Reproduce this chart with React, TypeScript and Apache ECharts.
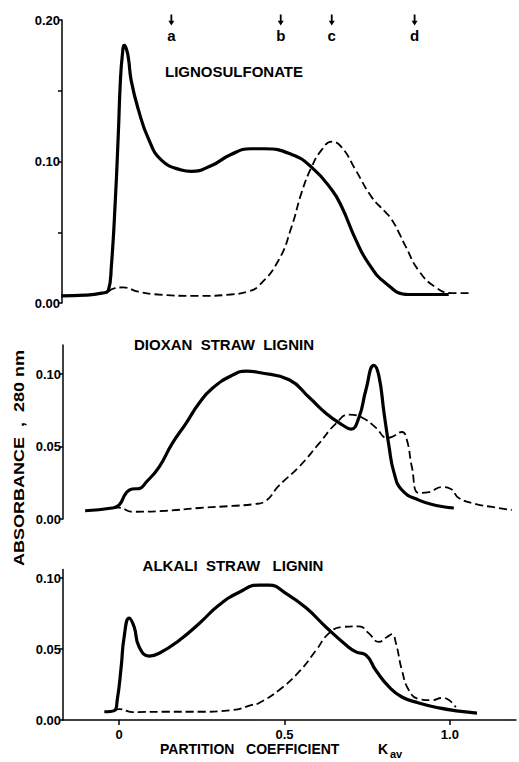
import React, { useEffect, useRef } from "react";
import * as echarts from "echarts";

// ---------- data (Kav, absorbance at 280 nm) ----------
const xMin = -0.17;
const xMax = 1.2;

const ligSolid = [
  [-0.172, 0.005], [-0.1, 0.0055], [-0.05, 0.007], [-0.03, 0.009], [-0.021, 0.026],
  [-0.009, 0.073], [0, 0.12], [0.006, 0.156], [0.012, 0.175], [0.018, 0.182],
  [0.025, 0.179], [0.031, 0.172], [0.039, 0.157], [0.06, 0.137], [0.091, 0.116],
  [0.13, 0.101], [0.19, 0.094], [0.22, 0.093], [0.28, 0.097], [0.34, 0.105],
  [0.40, 0.109], [0.44, 0.109], [0.523, 0.105], [0.583, 0.096], [0.644, 0.080],
  [0.674, 0.068], [0.716, 0.045], [0.755, 0.028], [0.807, 0.014], [0.876, 0.006],
  [0.997, 0.006],
];
const ligDash = [
  [-0.03, 0.008], [-0.01, 0.0105], [0.015, 0.011], [0.06, 0.008], [0.12, 0.006],
  [0.24, 0.005], [0.34, 0.006], [0.39, 0.008], [0.423, 0.012], [0.483, 0.030],
  [0.523, 0.054], [0.553, 0.078], [0.583, 0.096], [0.613, 0.108], [0.644, 0.114],
  [0.674, 0.110], [0.716, 0.094], [0.764, 0.075], [0.807, 0.064], [0.825, 0.059],
  [0.846, 0.050], [0.867, 0.040], [0.906, 0.023], [0.958, 0.011], [1.006, 0.007],
  [1.063, 0.007],
];
const dioxSolid = [
  [-0.103, 0.0057], [-0.021, 0.0076], [0, 0.0097], [0.021, 0.018], [0.039, 0.0207],
  [0.06, 0.021], [0.082, 0.0255], [0.121, 0.036], [0.16, 0.052], [0.202, 0.066],
  [0.242, 0.080], [0.281, 0.090], [0.341, 0.099], [0.384, 0.102], [0.423, 0.101],
  [0.514, 0.096], [0.574, 0.084], [0.625, 0.073], [0.674, 0.065], [0.701, 0.062],
  [0.725, 0.070], [0.746, 0.089], [0.770, 0.106], [0.785, 0.099], [0.801, 0.073],
  [0.816, 0.050], [0.831, 0.032], [0.855, 0.020], [0.906, 0.013], [0.967, 0.009],
  [1.012, 0.0076],
];
const dioxDash = [
  [-0.02, 0.0077], [0, 0.0078], [0.039, 0.005], [0.142, 0.0057], [0.242, 0.0076],
  [0.341, 0.009], [0.41, 0.0103], [0.44, 0.012], [0.483, 0.023], [0.544, 0.036],
  [0.604, 0.052], [0.656, 0.066], [0.695, 0.072], [0.734, 0.070], [0.776, 0.063],
  [0.810, 0.056], [0.825, 0.0566], [0.855, 0.060], [0.870, 0.0545], [0.885, 0.036],
  [0.906, 0.018], [0.937, 0.0186], [0.976, 0.022], [1.003, 0.0207], [1.027, 0.0145],
  [1.079, 0.0103], [1.127, 0.0083], [1.187, 0.0062],
];
const alkSolid = [
  [-0.045, 0.0058], [-0.015, 0.0066], [-0.006, 0.014], [0.006, 0.0375], [0.015, 0.0587],
  [0.030, 0.0718], [0.045, 0.0657], [0.06, 0.0516], [0.091, 0.045], [0.121, 0.047],
  [0.181, 0.056], [0.242, 0.068], [0.302, 0.081], [0.363, 0.090], [0.423, 0.095],
  [0.453, 0.095], [0.505, 0.089], [0.565, 0.079], [0.625, 0.0655], [0.686, 0.0528],
  [0.716, 0.048], [0.746, 0.0458], [0.776, 0.035], [0.816, 0.0233], [0.855, 0.0162],
  [0.906, 0.012], [0.967, 0.0085], [1.027, 0.0063], [1.082, 0.0049],
];
const alkDash = [
  [-0.015, 0.007], [0, 0.0077], [0.039, 0.0056], [0.142, 0.0058], [0.242, 0.0058],
  [0.341, 0.007], [0.402, 0.0106], [0.423, 0.012], [0.483, 0.021], [0.544, 0.034],
  [0.595, 0.049], [0.634, 0.061], [0.674, 0.0655], [0.725, 0.066], [0.755, 0.061],
  [0.785, 0.055], [0.810, 0.0585], [0.825, 0.0605], [0.837, 0.054], [0.855, 0.035],
  [0.876, 0.021], [0.906, 0.0148], [0.946, 0.014], [0.976, 0.0155], [0.997, 0.014],
  [1.018, 0.009],
];

const markerX = [0.16, 0.49, 0.644, 0.894];
const markerLabels = ["a", "b", "c", "d"];

const panelTitles = ["LIGNOSULFONATE", "DIOXAN  STRAW  LIGNIN", "ALKALI  STRAW   LIGNIN"];
const panelMax = [0.2, 0.12, 0.106];
const panelTickValues = [
  [0, 0.05, 0.1, 0.15, 0.2],
  [0, 0.05, 0.1],
  [0, 0.05, 0.1],
];
const panelLabelValues = [
  [0, 0.1, 0.2],
  [0, 0.05, 0.1],
  [0, 0.05, 0.1],
];
const xTickValues = [0, 0.5, 1.0];

const yTitle = "ABSORBANCE  ,  280 nm";
const xTitle = "PARTITION   COEFFICIENT";
const xTitleK = "K";
const xTitleSub = "av";

const FONT = "Liberation Sans";

export default function App() {
  const ref = useRef<HTMLDivElement>(null);
  useEffect(() => {
    if (!ref.current) return;
    const chart = echarts.init(ref.current, undefined, { renderer: "svg" });

    const grids = [
      { left: 62, right: 3, top: 20, height: 283 },
      { left: 63, right: 3, top: 345, height: 174 },
      { left: 63, right: 3, top: 569.5, height: 150.5 },
    ];

    const xAxes = grids.map((_, i) => ({
      type: "value",
      gridIndex: i,
      min: xMin,
      max: xMax,
      show: i === 2,
      splitLine: { show: false },
      axisLine: { show: true, onZero: false, lineStyle: { color: "#000", width: 1.5 } },
      axisTick: {
        show: true,
        customValues: xTickValues,
        length: 5,
        inside: false,
        lineStyle: { color: "#000", width: 1.5 },
      },
      axisLabel: {
        show: true,
        customValues: xTickValues,
        formatter: (v: number) => (v === 0 ? "0" : v.toFixed(1)),
        color: "#000",
        fontFamily: FONT,
        fontWeight: "bold",
        fontSize: 13,
        margin: 8,
      },
    }));

    const yAxes = grids.map((_, i) => ({
      type: "value",
      gridIndex: i,
      min: 0,
      max: panelMax[i],
      splitLine: { show: false },
      axisLine: { show: true, onZero: false, lineStyle: { color: "#000", width: 1.5 } },
      axisTick: {
        show: true,
        customValues: panelTickValues[i],
        length: 4,
        lineStyle: { color: "#000", width: 1.5 },
      },
      axisLabel: {
        show: true,
        customValues: panelLabelValues[i],
        formatter: (v: number) => v.toFixed(2),
        color: "#000",
        fontFamily: FONT,
        fontWeight: "bold",
        fontSize: 13,
        margin: 2,
      },
    }));

    const solid = { color: "#000", width: 3.2 };
    const dash = { color: "#000", width: 1.8, type: [8, 4] };
    const mkLine = (data: number[][], idx: number, style: any) => ({
      type: "line",
      xAxisIndex: idx,
      yAxisIndex: idx,
      data,
      showSymbol: false,
      smooth: 0.5,
      lineStyle: style,
      silent: true,
      z: style.width > 2 ? 3 : 2,
    });

    const titleY = [71, 344, 565];
    const titleX = [234, 224, 233];

    chart.setOption({
      animation: false,
      backgroundColor: "#fff",
      grid: grids,
      xAxis: xAxes,
      yAxis: yAxes,
      series: [
        mkLine(ligSolid, 0, solid),
        mkLine(ligDash, 0, dash),
        mkLine(dioxSolid, 1, solid),
        mkLine(dioxDash, 1, dash),
        mkLine(alkSolid, 2, solid),
        mkLine(alkDash, 2, dash),
        {
          type: "scatter",
          xAxisIndex: 0,
          yAxisIndex: 0,
          clip: false,
          silent: true,
          symbol: "path://M3.5,0 L6.5,0 L6.5,9 L10,9 L5,16 L0,9 L3.5,9 Z",
          symbolSize: [6, 11],
          itemStyle: { color: "#000", opacity: 1 },
          data: markerX.map((x, i) => ({ value: [x, 0.2], name: markerLabels[i] })),
          label: {
            show: true,
            position: "bottom",
            distance: 2,
            formatter: "{b}",
            color: "#000",
            fontFamily: FONT,
            fontWeight: "bold",
            fontSize: 15,
          },
        },
      ],
      graphic: [
        ...panelTitles.map((t, i) => ({
          type: "text",
          x: titleX[i],
          y: titleY[i],
          style: {
            text: t,
            fill: "#000",
            font: `bold 15px "${FONT}"`,
            textAlign: "center",
            textVerticalAlign: "middle",
          },
        })),
        {
          type: "text",
          x: 19,
          y: 458,
          rotation: Math.PI / 2,
          scaleX: 1.2,
          style: {
            text: yTitle,
            fill: "#000",
            font: `bold 15px "${FONT}"`,
            textAlign: "center",
            textVerticalAlign: "middle",
          },
        },
        {
          type: "text",
          x: 160,
          y: 749,
          style: {
            text: xTitle,
            fill: "#000",
            font: `bold 14px "${FONT}"`,
            textAlign: "left",
            textVerticalAlign: "middle",
          },
        },
        {
          type: "text",
          x: 378,
          y: 749,
          style: {
            text: xTitleK,
            fill: "#000",
            font: `bold 14px "${FONT}"`,
            textAlign: "left",
            textVerticalAlign: "middle",
          },
        },
        {
          type: "text",
          x: 390,
          y: 754,
          style: {
            text: xTitleSub,
            fill: "#000",
            font: `bold 11px "${FONT}"`,
            textAlign: "left",
            textVerticalAlign: "middle",
          },
        },
      ],
    });
    return () => chart.dispose();
  }, []);
  return (
    <div
      ref={ref}
      style={{ position: "fixed", left: 0, top: 0, width: 519, height: 762 }}
    />
  );
}
